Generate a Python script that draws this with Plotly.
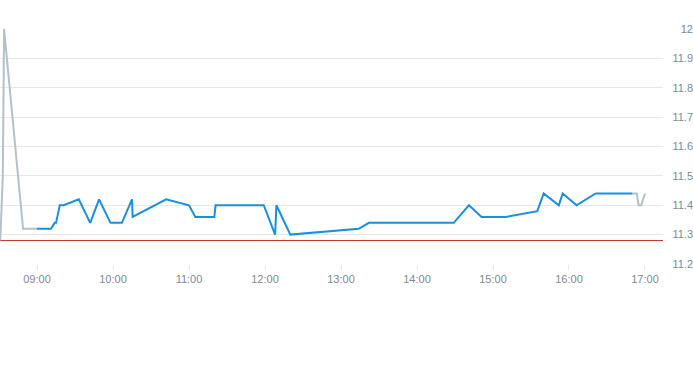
import plotly.graph_objects as go

DAY = "2024-01-02 "

pre_times = ["08:31", "08:33", "08:34", "08:49", "09:00"]
pre_vals = [11.28, 11.50, 12.00, 11.32, 11.32]

main_times = ["09:00", "09:11", "09:14", "09:15", "09:18", "09:21", "09:33", "09:42", "09:49",
              "09:58", "10:07", "10:15", "10:15:30", "10:42", "11:00", "11:05", "11:20", "11:21",
              "11:59", "12:08", "12:09", "12:20", "13:14", "13:22", "14:29", "14:41", "14:51",
              "15:10", "15:35", "15:40", "15:52", "15:55", "16:06", "16:21", "16:50"]
main_vals = [11.32, 11.32, 11.34, 11.34, 11.40, 11.40, 11.42, 11.34, 11.42,
             11.34, 11.34, 11.42, 11.36, 11.42, 11.40, 11.36, 11.36, 11.40,
             11.40, 11.30, 11.40, 11.30, 11.32, 11.34, 11.34, 11.40, 11.36,
             11.36, 11.38, 11.44, 11.40, 11.44, 11.40, 11.44, 11.44]

post_times = ["16:50", "16:53:30", "16:55", "16:57", "17:00"]
post_vals = [11.44, 11.44, 11.40, 11.40, 11.44]

prev_close = 11.28
x_range = ["08:30:47", "17:14:13"]
y_ticks = [11.2, 11.3, 11.4, 11.5, 11.6, 11.7, 11.8, 11.9, 12]
y_tick_text = ["11.2", "11.3", "11.4", "11.5", "11.6", "11.7", "11.8", "11.9", "12"]
x_ticks = ["09:00", "10:00", "11:00", "12:00", "13:00", "14:00", "15:00", "16:00", "17:00"]

def ts(lst):
    return [DAY + t for t in lst]

GREY = "#b5c1c9"
BLUE = "#1a8fdd"
RED = "#c0392b"
LABEL = "#7d8a96"
GRID = "#e6e8ea"

fig = go.Figure()
fig.add_trace(go.Scatter(x=ts(x_range), y=[prev_close, prev_close], mode="lines",
                         line=dict(color=RED, width=1.2), hoverinfo="skip"))
fig.add_trace(go.Scatter(x=ts(pre_times), y=pre_vals, mode="lines",
                         line=dict(color=GREY, width=2)))
fig.add_trace(go.Scatter(x=ts(post_times), y=post_vals, mode="lines",
                         line=dict(color=GREY, width=2)))
fig.add_trace(go.Scatter(x=ts(main_times), y=main_vals, mode="lines",
                         line=dict(color=BLUE, width=2)))

fig.update_layout(
    width=693, height=365,
    margin=dict(l=0, r=0, t=29, b=101),
    paper_bgcolor="white", plot_bgcolor="white",
    showlegend=False,
    font=dict(family="Liberation Sans, Arial, sans-serif", size=11, color=LABEL),
    xaxis=dict(
        type="date", domain=[0, 663 / 693], range=ts(x_range),
        tickvals=ts(x_ticks), ticktext=x_ticks,
        showgrid=False, zeroline=False, showline=False,
        ticks="outside", ticklen=5, tickcolor=GRID, tickwidth=1,
        tickfont=dict(size=11, color=LABEL),
    ),
    yaxis=dict(
        range=[11.2, 12.0], side="left", anchor="free", position=1.0,
        tickvals=y_ticks, ticktext=y_tick_text,
        showgrid=True, gridcolor=GRID, gridwidth=1, zeroline=False, showline=False,
        ticks="", ticklabelstandoff=0,
        tickfont=dict(size=11, color=LABEL),
    ),
)

fig.write_html("out.html")
